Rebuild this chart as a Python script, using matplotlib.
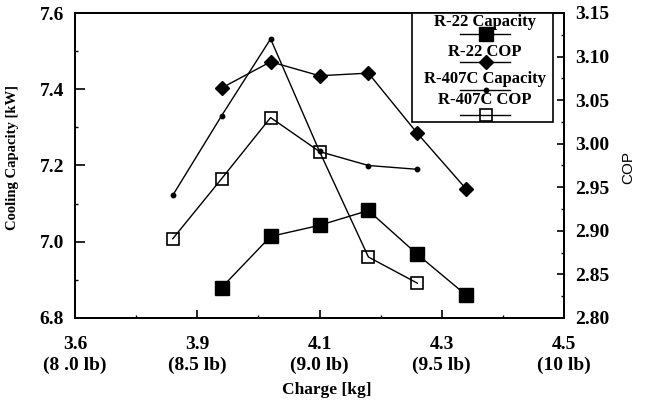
import matplotlib
matplotlib.use("Agg")
import matplotlib.pyplot as plt
import numpy as np
from matplotlib.ticker import FixedLocator, MultipleLocator, FormatStrFormatter
from matplotlib.patches import Rectangle
from matplotlib.lines import Line2D

# Refrigerant charge (lb) and measured performance
charge_r22_lb = [8.6, 8.8, 9.0, 9.2, 9.4, 9.6]
r22_capacity = [6.880, 7.014, 7.043, 7.082, 6.967, 6.860]
r22_cop = [3.064, 3.094, 3.078, 3.081, 3.012, 2.948]

charge_r407c_lb = [8.4, 8.6, 8.8, 9.0, 9.2, 9.4]
r407c_capacity = [7.122, 7.331, 7.532, 7.237, 7.200, 7.190]
r407c_cop = [2.891, 2.960, 3.030, 2.991, 2.870, 2.840]

tick_lb = [8.0, 8.5, 9.0, 9.5, 10.0]
tick_labels = ["3.6\n(8 .0 lb)", "3.9\n(8.5 lb)", "4.1\n(9.0 lb)",
               "4.3\n(9.5 lb)", "4.5\n(10 lb)"]

CAP_LIM = (6.8, 7.6)
COP_LIM = (2.80, 3.15)

SERIF = "Liberation Serif"
plt.rcParams["font.family"] = [SERIF, "DejaVu Serif"]

fig = plt.figure(figsize=(6.45, 4.03), dpi=100)
ax = fig.add_axes([75 / 645, 1 - 318 / 403, 489 / 645, 305 / 403])
ax2 = ax.twinx()
ax2.set_zorder(ax.get_zorder() + 1)
ax2.patch.set_visible(False)


def cop_on_cap_scale(v):
    v = np.asarray(v, dtype=float)
    return CAP_LIM[0] + (v - COP_LIM[0]) * (CAP_LIM[1] - CAP_LIM[0]) / (COP_LIM[1] - COP_LIM[0])


lw = 1.0
# R-22
ax.plot(charge_r22_lb, r22_capacity, color="black", lw=lw, marker="s",
        ms=9.5, mfc="black", mec="black")
ax2.plot(charge_r22_lb, r22_cop, color="black", lw=lw, marker="D",
         ms=7.5, mfc="black", mec="black")

# R-407C traces (the two polylines swap partners after the 4th charge level)
trace_a = list(r407c_capacity[:4]) + list(cop_on_cap_scale(r407c_cop[4:]))
trace_b = list(cop_on_cap_scale(r407c_cop[:4])) + list(r407c_capacity[4:])
ax.plot(charge_r407c_lb, trace_a, color="black", lw=lw)
ax.plot(charge_r407c_lb, trace_b, color="black", lw=lw)
ax.plot(charge_r407c_lb, r407c_capacity, ls="none", marker="o", ms=3.2,
        mfc="black", mec="black")
ax2.plot(charge_r407c_lb, r407c_cop, ls="none", marker="s", ms=9,
         mfc="none", mec="black", mew=1.2)

# Axes ranges and ticks
ax.set_xlim(8.0, 10.0)
ax.set_ylim(*CAP_LIM)
ax2.set_ylim(*COP_LIM)

ax.xaxis.set_major_locator(FixedLocator(tick_lb))
ax.set_xticklabels(tick_labels)
ax.xaxis.set_minor_locator(MultipleLocator(0.25))
ax.yaxis.set_major_locator(MultipleLocator(0.2))
ax.yaxis.set_minor_locator(MultipleLocator(0.1))
ax.yaxis.set_major_formatter(FormatStrFormatter("%.1f"))
ax2.yaxis.set_major_locator(MultipleLocator(0.05))
ax2.yaxis.set_minor_locator(MultipleLocator(0.025))
ax2.yaxis.set_major_formatter(FormatStrFormatter("%.2f"))

TICK_FS = 14
ax.tick_params(axis="x", which="major", direction="in", length=6, width=1.2, pad=13,
               top=False, labelsize=TICK_FS)
ax.tick_params(axis="x", which="minor", direction="in", length=2.5, width=1.0, top=False)
ax.tick_params(axis="y", which="major", direction="in", length=7, width=1.2, pad=8,
               labelsize=TICK_FS)
ax.tick_params(axis="y", which="minor", direction="in", length=2.5, width=1.0)
ax2.tick_params(axis="y", which="major", direction="in", length=5, width=1.2, pad=8,
                labelsize=TICK_FS)
ax2.tick_params(axis="y", which="minor", direction="in", length=2.5, width=1.0)
for lab in ax.get_xticklabels() + ax.get_yticklabels() + ax2.get_yticklabels():
    lab.set_fontweight("bold")
for lab in ax.get_xticklabels():
    lab.set_linespacing(1.3)

for a in (ax, ax2):
    for s in a.spines.values():
        s.set_linewidth(1.4)

# Axis titles
ax.set_xlabel("Charge [kg]", fontsize=12.5, fontweight="bold")
ax.xaxis.set_label_coords((326.8 - 75) / 489, (318 - 382) / 305)
ax.set_ylabel("Cooling Capacity [kW]", fontsize=10.5, fontweight="bold")
ax.yaxis.set_label_coords((19 - 75) / 489, (318 - 157.5) / 305)
ax2.set_ylabel("COP", fontsize=11, fontfamily="Liberation Sans", rotation=90)
ax2.yaxis.set_label_coords((621 - 75) / 489, (318 - 167) / 305)

# Legend: label text above each sample line
T = ax2.transAxes
box = Rectangle((0.6885, 0.6416), 0.9769 - 0.6885, 1.0 - 0.6416, transform=T,
                facecolor="white", edgecolor="black", lw=1.2, zorder=5)
ax2.add_patch(box)
entries = [
    ("R-22 Capacity", 0.9715, 0.9311, dict(marker="s", ms=9.5, mfc="black", mec="black")),
    ("R-22 COP", 0.8730, 0.8384, dict(marker="D", ms=7.5, mfc="black", mec="black")),
    ("R-407C Capacity", 0.7836, 0.7475, dict(marker="o", ms=3.2, mfc="black", mec="black")),
    ("R-407C COP", 0.7148, 0.6656, dict(marker="s", ms=9, mfc="none", mec="black", mew=1.2)),
]
for label, ty, ly, mk in entries:
    ax2.text(0.8384, ty, label, transform=T, ha="center", va="center",
             fontsize=12, fontweight="bold", zorder=6)
    ax2.add_line(Line2D([0.7873, 0.8896], [ly, ly], transform=T, color="black",
                        lw=lw, zorder=6))
    ax2.add_line(Line2D([0.8405], [ly], transform=T, color="black", ls="none",
                        zorder=7, **mk))

fig.savefig("out.png", dpi=100)
